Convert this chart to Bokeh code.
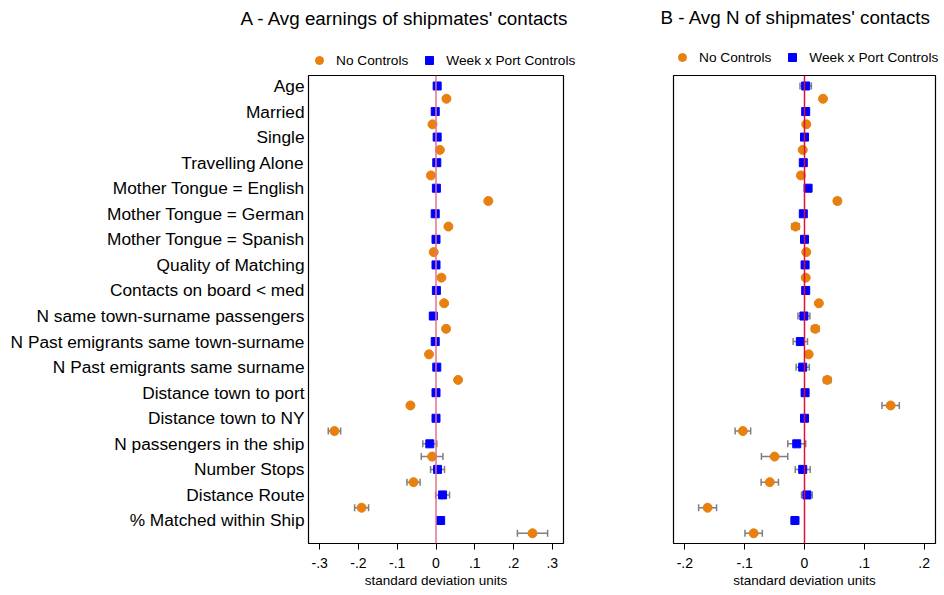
from bokeh.plotting import figure
from bokeh.models import Range1d, FixedTicker, Label, Legend, LegendItem, Whisker, ColumnDataSource, Span
from bokeh.layouts import row, column
from bokeh.embed import file_html
from bokeh.resources import INLINE

variables = ["Age", "Married", "Single", "Travelling Alone", "Mother Tongue = English",
             "Mother Tongue = German", "Mother Tongue = Spanish", "Quality of Matching",
             "Contacts on board < med", "N same town-surname passengers",
             "N Past emigrants same town-surname", "N Past emigrants same surname",
             "Distance town to port", "Distance town to NY", "N passengers in the ship",
             "Number Stops", "Distance Route", "% Matched within Ship"]

# Panel A: Avg earnings of shipmates' contacts
a_nc = [0.027, -0.009, 0.010, -0.013, 0.135, 0.032, -0.006, 0.014, 0.021, 0.026,
        -0.018, 0.057, -0.066, -0.262, -0.010, -0.058, -0.192, 0.249]
a_nc_err = [0.003, 0.003, 0.003, 0.003, 0.006, 0.005, 0.003, 0.003, 0.003, 0.005,
            0.005, 0.005, 0.006, 0.016, 0.028, 0.017, 0.018, 0.039]
a_wp = [0.003, -0.002, 0.003, 0.002, 0.001, -0.002, 0.0, 0.0, 0.001, -0.007,
        -0.002, 0.002, 0.0, 0.0, -0.016, 0.004, 0.017, 0.012]
a_wp_err = [0.004, 0.003, 0.003, 0.003, 0.003, 0.003, 0.003, 0.003, 0.003, 0.007,
            0.005, 0.005, 0.003, 0.003, 0.018, 0.018, 0.018, 0.006]

# Panel B: Avg N of shipmates' contacts
b_nc = [0.031, 0.003, -0.003, -0.006, 0.055, -0.015, 0.003, 0.002, 0.024, 0.018,
        0.007, 0.038, 0.144, -0.103, -0.050, -0.058, -0.162, -0.085]
b_nc_err = [0.003, 0.003, 0.003, 0.003, 0.005, 0.006, 0.003, 0.003, 0.003, 0.006,
            0.004, 0.006, 0.0145, 0.013, 0.022, 0.0145, 0.015, 0.0145]
b_wp = [0.002, 0.002, 0.0, -0.002, 0.006, -0.002, 0.0, 0.001, 0.002, -0.001,
        -0.007, -0.003, 0.001, 0.0, -0.013, -0.003, 0.004, -0.016]
b_wp_err = [0.0095, 0.004, 0.003, 0.003, 0.004, 0.003, 0.003, 0.004, 0.003, 0.010,
            0.012, 0.011, 0.003, 0.003, 0.015, 0.0125, 0.009, 0.006]

a_ticks = [-0.3, -0.2, -0.1, 0.0, 0.1, 0.2, 0.3]
a_tick_labels = ["-.3", "-.2", "-.1", "0", ".1", ".2", ".3"]
b_ticks = [-0.2, -0.1, 0.0, 0.1, 0.2]
b_tick_labels = ["-.2", "-.1", "0", ".1", ".2"]

series_names = ["No Controls", "Week x Port Controls"]

ORANGE = "#e8800f"
BLUE = "#0000ff"
GREY = "#7f7f7f"
TEXT = "#000000"
FONT = "Liberation Sans"
HEADER_H = 70


def header(title, width, title_x, title_y, legend_x, legend_y):
    h = figure(width=width, height=HEADER_H, output_backend="svg", toolbar_location=None,
               x_axis_type=None, y_axis_type=None, x_range=Range1d(0, 1), y_range=Range1d(0, 1),
               min_border_left=0, min_border_right=0, min_border_top=0, min_border_bottom=0)
    h.outline_line_color = None
    h.xgrid.visible = False
    h.ygrid.visible = False
    h.add_layout(Label(x=title_x, y=HEADER_H - title_y, x_units="screen", y_units="screen",
                       text=title, text_font=FONT, text_font_size="18.8px",
                       text_align="left", text_baseline="middle", text_color=TEXT))
    # legend-only renderers, their single point lies outside the visible range
    r1 = h.scatter(x=[-5], y=[-5], marker="circle", size=9, fill_color=ORANGE, line_color=ORANGE)
    r2 = h.scatter(x=[-5], y=[-5], marker="square", size=8, fill_color=BLUE, line_color=BLUE)
    legend = Legend(items=[LegendItem(label=series_names[0], renderers=[r1], index=0),
                           LegendItem(label=series_names[1], renderers=[r2], index=0)],
                    orientation="horizontal", location=(legend_x, legend_y),
                    background_fill_alpha=0, border_line_color=None,
                    label_text_font=FONT, label_text_font_size="13.7px",
                    label_text_color=TEXT,
                    glyph_width=20, glyph_height=20, label_height=20,
                    label_standoff=7, spacing=11, padding=0, margin=0)
    h.add_layout(legend, "center")
    return h


def panel(nc, nc_err, wp, wp_err, xlim, ticks, tick_labels, zero_color,
          width, height, bl, br, bt, bb, show_labels):
    p = figure(width=width, height=height, output_backend="svg", toolbar_location=None,
               x_range=Range1d(-xlim, xlim), y_range=Range1d(17.9, -0.41),
               min_border_left=bl, min_border_right=br, min_border_top=bt,
               min_border_bottom=bb)
    p.xgrid.visible = False
    p.ygrid.visible = False
    p.outline_line_color = "black"
    p.outline_line_width = 1.2

    ys_wp = [float(i) for i in range(len(variables))]
    ys_nc = [i + 0.5 for i in ys_wp]

    p.add_layout(Span(location=0, dimension="height", line_color=zero_color, line_width=1.5))

    src_nc = ColumnDataSource(dict(x=nc, y=ys_nc,
                                   lo=[v - e for v, e in zip(nc, nc_err)],
                                   hi=[v + e for v, e in zip(nc, nc_err)]))
    src_wp = ColumnDataSource(dict(x=wp, y=ys_wp,
                                   lo=[v - e for v, e in zip(wp, wp_err)],
                                   hi=[v + e for v, e in zip(wp, wp_err)]))
    for src in (src_nc, src_wp):
        w = Whisker(source=src, base="y", lower="lo", upper="hi", dimension="width",
                    line_color=GREY, line_width=1.5)
        for head in (w.upper_head, w.lower_head):
            head.size = 7
            head.line_color = GREY
            head.line_width = 1.5
        p.add_layout(w)

    p.scatter("x", "y", source=src_nc, marker="circle", size=9,
              fill_color=ORANGE, line_color=ORANGE)
    p.scatter("x", "y", source=src_wp, marker="square", size=8,
              fill_color=BLUE, line_color=BLUE)

    p.xaxis.ticker = FixedTicker(ticks=ticks)
    p.xaxis.major_label_overrides = {t: l for t, l in zip(ticks, tick_labels)}
    p.xaxis.minor_tick_line_color = None
    p.xaxis.axis_line_color = None
    p.xaxis.major_tick_out = 6
    p.xaxis.major_tick_in = 0
    p.xaxis.major_tick_line_color = "black"
    p.xaxis.major_label_text_font = FONT
    p.xaxis.major_label_text_font_size = "14px"
    p.xaxis.major_label_text_color = TEXT
    p.xaxis.major_label_standoff = 8
    p.xaxis.axis_label = "standard deviation units"
    p.xaxis.axis_label_text_font = FONT
    p.xaxis.axis_label_text_font_size = "13.5px"
    p.xaxis.axis_label_text_font_style = "normal"
    p.xaxis.axis_label_text_color = TEXT
    p.xaxis.axis_label_standoff = 2

    p.yaxis.ticker = FixedTicker(ticks=list(range(len(variables))))
    p.yaxis.axis_line_color = None
    p.yaxis.major_tick_line_color = None
    p.yaxis.minor_tick_line_color = None
    p.yaxis.major_tick_out = 0
    p.yaxis.major_tick_in = 0
    if show_labels:
        p.yaxis.major_label_overrides = {i: v for i, v in enumerate(variables)}
        p.yaxis.major_label_text_font = FONT
        p.yaxis.major_label_text_font_size = "17.3px"
        p.yaxis.major_label_text_color = TEXT
        p.yaxis.major_label_standoff = 4
    else:
        p.yaxis.major_label_text_font_size = "0px"
        p.yaxis.major_label_text_color = None
    return p


PH = 520
ha = header("A - Avg earnings of shipmates' contacts", 600, 240, 18, 309, 0)
hb = header("B - Avg N of shipmates' contacts", 344, 60, 17, 72, 3)
pa = panel(a_nc, a_nc_err, a_wp, a_wp_err, 0.329, a_ticks, a_tick_labels, "#e0758f",
           600, PH, 308, 37, 5, 44, True)
pb = panel(b_nc, b_nc_err, b_wp, b_wp_err, 0.219, b_ticks, b_tick_labels, "#e0103a",
           344, PH, 73, 9, 3, 41, False)

layout = column(row(ha, hb), row(pa, pb))
open("out.html", "w").write(file_html(layout, INLINE))
